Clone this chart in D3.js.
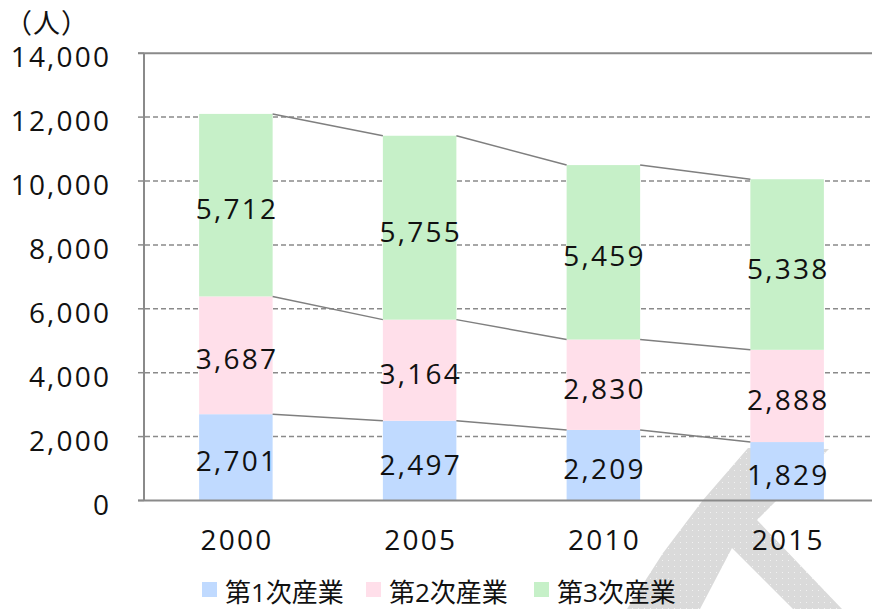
<!DOCTYPE html>
<html><head><meta charset="utf-8">
<script src="https://cdn.jsdelivr.net/npm/d3@7"></script>
<style>html,body{margin:0;padding:0;background:#fff;overflow:hidden}</style>
</head><body>
<svg id="chart" width="872" height="609"></svg>
<script>
const years = ["2000", "2005", "2010", "2015"];
const seriesNames = ["第1次産業", "第2次産業", "第3次産業"];
const primary = [2701, 2497, 2209, 1829];
const secondary = [3687, 3164, 2830, 2888];
const tertiary = [5712, 5755, 5459, 5338];
const yTicks = [0, 2000, 4000, 6000, 8000, 10000, 12000, 14000];
const colors = ["#c0daff", "#ffdfea", "#c6f0c8"];

const svg = d3.select("#chart");
const FONT = "'Open Sans', 'Noto Sans CJK JP', sans-serif";
const LS = 2.2;
const x = d3.scaleBand().domain(years).range([144, 879]).paddingInner(0.6).paddingOuter(0.3);
const y = d3.scaleLinear().domain([0, 14000]).range([500.5, 53.2]);

// watermark (behind chart)
const defs = svg.append("defs");
const pat = defs.append("pattern").attr("id", "dots").attr("width", 6).attr("height", 6).attr("patternUnits", "userSpaceOnUse");
pat.append("rect").attr("width", 6).attr("height", 6).attr("fill", "#dadada");
pat.append("rect").attr("x", 2).attr("y", 2).attr("width", 1).attr("height", 1).attr("fill", "#f2f2f2");
svg.append("path")
  .attr("d", "M748,448 L829,449 L777,500 L757,520 L842,609 L793,609 L732,548 L700,609 L627,609 L663,553 L703,500 Z")
  .attr("fill", "url(#dots)");

// grid lines
svg.append("g").selectAll("line").data(yTicks.filter(d => d > 0 && d < 14000)).join("line")
  .attr("x1", 145).attr("x2", 872).attr("y1", d => y(d)).attr("y2", d => y(d))
  .attr("stroke", "#8a8a8a").attr("stroke-width", 1.5).attr("stroke-dasharray", "5,3");
// top border
svg.append("line").attr("x1", 138).attr("x2", 872).attr("y1", y(14000)).attr("y2", y(14000))
  .attr("stroke", "#8a8a8a").attr("stroke-width", 2);

// stacked data
const table = years.map((yr, i) => ({ year: yr, s0: primary[i], s1: secondary[i], s2: tertiary[i] }));
const stack = d3.stack().keys(["s0", "s1", "s2"])(table);

const gBars = svg.append("g");
stack.forEach((layer, li) => {
  gBars.selectAll(null).data(layer).join("rect")
    .attr("x", d => x(d.data.year)).attr("width", x.bandwidth())
    .attr("y", d => y(d[1])).attr("height", d => y(d[0]) - y(d[1]))
    .attr("fill", colors[li]);
});

// series lines
const gLines = svg.append("g");
stack.forEach(layer => {
  for (let i = 0; i < layer.length - 1; i++) {
    gLines.append("line")
      .attr("x1", x(years[i]) + x.bandwidth()).attr("y1", y(layer[i][1]))
      .attr("x2", x(years[i + 1])).attr("y2", y(layer[i + 1][1]))
      .attr("stroke", "#7f7f7f").attr("stroke-width", 1.5);
  }
});

// labels
const fmt = d3.format(",");
stack.forEach(layer => {
  svg.append("g").selectAll("text").data(layer).join("text")
    .attr("x", d => x(d.data.year) + x.bandwidth() / 2 + LS / 2)
    .attr("y", d => (y(d[0]) + y(d[1])) / 2 + 14)
    .attr("text-anchor", "middle").attr("font-family", FONT).attr("font-size", 28).attr("fill", "#111")
    .attr("letter-spacing", LS)
    .text(d => fmt(d[1] - d[0]));
});

// axes
svg.append("line").attr("x1", 144).attr("x2", 144).attr("y1", y(14000)).attr("y2", y(0))
  .attr("stroke", "#8a8a8a").attr("stroke-width", 2);
svg.append("g").selectAll("line").data(yTicks).join("line")
  .attr("x1", 138).attr("x2", 144).attr("y1", d => y(d)).attr("y2", d => y(d))
  .attr("stroke", "#8a8a8a").attr("stroke-width", 1.5);
svg.append("line").attr("x1", 138).attr("x2", 872).attr("y1", y(0)).attr("y2", y(0))
  .attr("stroke", "#8a8a8a").attr("stroke-width", 2);

svg.append("g").selectAll("text").data(yTicks).join("text")
  .attr("x", 109 + LS).attr("y", d => y(d) + 14).attr("text-anchor", "end")
  .attr("font-family", FONT).attr("font-size", 28).attr("fill", "#111")
  .attr("letter-spacing", LS)
  .text(d => fmt(d));

svg.append("g").selectAll("text").data(years).join("text")
  .attr("x", d => x(d) + x.bandwidth() / 2 + LS / 2).attr("y", 550).attr("text-anchor", "middle")
  .attr("font-family", FONT).attr("font-size", 28).attr("fill", "#111")
  .attr("letter-spacing", LS)
  .text(d => d);

svg.append("text").attr("x", 47).attr("y", 33).attr("text-anchor", "middle")
  .attr("font-family", "'Noto Sans CJK JP', sans-serif").attr("font-size", 27).attr("fill", "#111")
  .attr("letter-spacing", 1)
  .text("（人）");

// legend
const legendX = [202, 366, 534];
const lg = svg.append("g");
seriesNames.forEach((name, i) => {
  lg.append("rect").attr("x", legendX[i]).attr("y", 582).attr("width", 15).attr("height", 15).attr("fill", colors[i]);
  lg.append("text").attr("x", legendX[i] + 23).attr("y", 602)
    .attr("font-family", FONT).attr("font-size", 26).attr("fill", "#111").text(name);
});
</script>
</body></html>
